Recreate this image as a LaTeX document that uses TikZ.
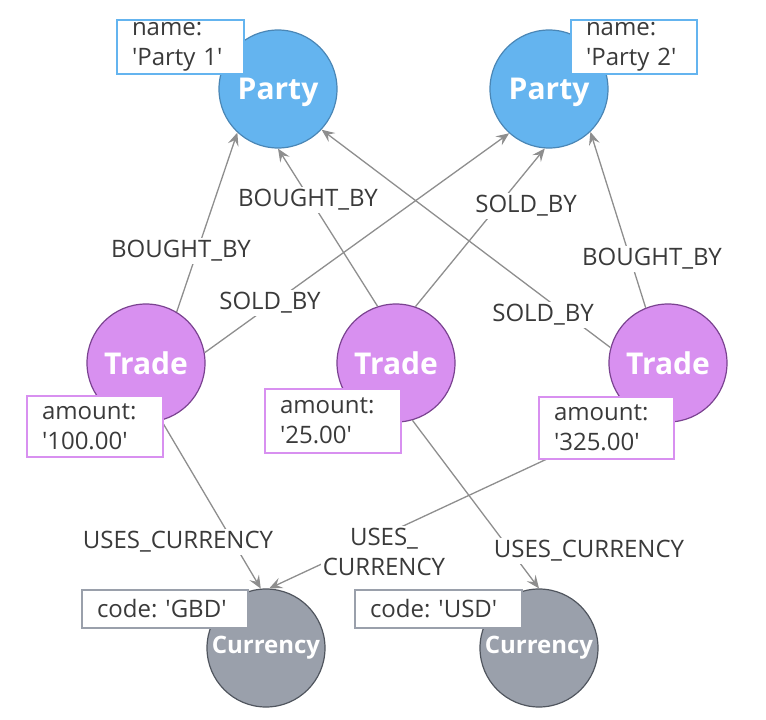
\documentclass[tikz,border=0pt]{standalone}
\usepackage{fontspec}
\setmainfont{Open Sans}[Ligatures=TeXOff]
\usetikzlibrary{arrows.meta,positioning}
\definecolor{partyfill}{HTML}{64B4EF}
\definecolor{partyline}{HTML}{4A86B5}
\definecolor{tradefill}{HTML}{D890F0}
\definecolor{tradeline}{HTML}{7A4290}
\definecolor{currfill}{HTML}{9AA0AB}
\definecolor{currline}{HTML}{50555E}
\definecolor{edgegray}{HTML}{8E8E8E}
\definecolor{txt}{HTML}{3A3A3A}

\begin{document}
\frenchspacing
\begin{tikzpicture}[x=1pt,y=-1pt,
  ent/.style={circle,minimum size=118pt,inner sep=0pt,line width=1.2pt,
    text=white,font=\fontsize{30}{36}\selectfont\bfseries},
  party/.style={ent,fill=partyfill,draw=partyline,text depth=0pt},
  trade/.style={ent,fill=tradefill,draw=tradeline},
  curr/.style={ent,fill=currfill,draw=currline,font=\fontsize{24}{28}\selectfont\bfseries},
  prop/.style={fill=white,line width=1.3pt,align=left,inner xsep=15pt,inner ysep=0pt,
    text=txt,font=\fontsize{24}{30}\selectfont},
  rel/.style={draw=edgegray,line width=1.3pt,-{Stealth[length=13pt,width=11pt,inset=5pt]}},
  rlab/.style={fill=white,inner sep=2pt,text=txt,align=center,
    font=\fontsize{24}{30}\selectfont}]
  \useasboundingbox (0,0) rectangle (766,720);

  % entities
  \node[party] (p1) at (278,89) {Party};
  \node[party] (p2) at (549,89) {Party};
  \foreach \n/\x in {t1/146,t2/396,t3/668}
    \node[trade] (\n) at (\x,363) {Trade};
  \node[curr] (c1) at (266,648) {Currency};
  \node[curr] (c2) at (539,648) {Currency};

  % relationships (anchors spread like the app does)
  \foreach \a/\b in {t1.59/p1.-133, t2.108/p1.-90, t3.165/p1.-43,
                     t1.10/p2.-132, t2.71/p2.-94, t3.112/p2.-46,
                     t1.-75/c1.95, t3.-118/c1.87, t2.-74/c2.90}
    \draw[rel] (\a) -- (\b);

  % relationship types
  \foreach \n/\pos/\lab in {l1/{181,251}/BOUGHT\_BY, l2/{308,200}/BOUGHT\_BY,
                            l3/{270,303}/SOLD\_BY, l4/{526,206}/SOLD\_BY,
                            l5/{652,259}/BOUGHT\_BY, l6/{543,315}/SOLD\_BY,
                            l7/{178,542}/USES\_CURRENCY, l8/{384,552}/{USES\_\\CURRENCY},
                            l9/{589,551}/USES\_CURRENCY}
    \node[rlab] (\n) at (\pos) {\lab};

  % properties
  \foreach \n/\pos/\w/\h/\col/\txt in {
      b1/{180.5,47}/127/54/partyfill/{name:\\'Party 1'},
      b2/{634,47}/126/54/partyfill/{name:\\'Party 2'},
      b3/{95,426.5}/136/61/tradefill/{amount:\\'100.00'},
      b4/{333,421}/136/64/tradefill/{amount:\\'25.00'},
      b5/{606.5,428}/135/62/tradefill/{amount:\\'325.00'},
      b6/{165,609}/166/38/currfill/{code: 'GBD'},
      b7/{438.5,609}/167/38/currfill/{code: 'USD'}}
    \node[prop,draw=\col,text width=\w pt-30pt,minimum height=\h pt] (\n) at (\pos) {\txt};
\end{tikzpicture}
\end{document}
